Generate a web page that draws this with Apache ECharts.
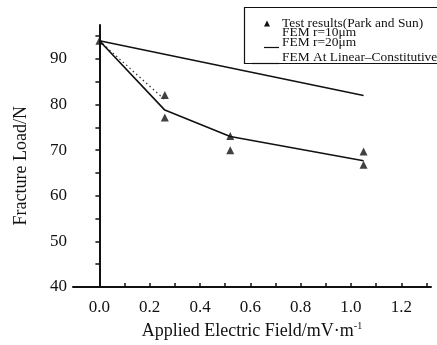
<!DOCTYPE html>
<html>
<head>
<meta charset="utf-8">
<script src="https://cdn.jsdelivr.net/npm/echarts@6/dist/echarts.min.js"></script>
<style>
html,body{margin:0;padding:0;background:#fff;}
#chart{width:437px;height:345px;}
</style>
</head>
<body>
<div id="chart"></div>
<script>
// ---- data ----
var xTickLabels = [0, 0.2, 0.4, 0.6, 0.8, 1.0, 1.2];
var yTickLabels = [40, 50, 60, 70, 80, 90];
var testX = [0, 0.26, 0.26, 0.52, 0.52, 1.05, 1.05];
var testY = [94, 82.1, 77.2, 73.1, 70.0, 69.7, 66.8];
var r10X = [0, 0.265];
var r10Y = [94, 80.8];
var r20X = [0, 0.26, 0.52, 1.05];
var r20Y = [94, 78.8, 73.0, 67.7];
var linX = [0, 1.05];
var linY = [94, 82.0];
var legendNames = ['Test results(Park and Sun)', 'FEM r=10\u03bcm', 'FEM r=20\u03bcm', 'FEM At Linear\u2013Constitutive'];

function pairs(xs, ys) { return xs.map(function (x, i) { return [x, ys[i]]; }); }

var serif = '"Liberation Serif", "DejaVu Serif", serif';
var ink = '#111';

var chart = echarts.init(document.getElementById('chart'), null, {renderer: 'canvas'});
var xMinor = [];
for (var i = 0; i <= 13; i++) xMinor.push(+(i * 0.1).toFixed(1));
var yMinor = [];
for (var v = 40; v <= 95; v += 5) yMinor.push(v);

function legendText(t, y) {
  return {type: 'text', x: 282, y: y, scaleX: 1.12,
    style: {text: t, font: '12px ' + serif, fill: ink, verticalAlign: 'middle'}};
}

chart.setOption({
  backgroundColor: '#fff',
  animation: false,
  grid: {left: 73, right: 6, top: 25, bottom: 58},
  xAxis: {
    type: 'value', min: -0.105, max: 1.318,
    axisLine: {lineStyle: {color: ink, width: 2}},
    splitLine: {show: false},
    axisTick: {show: true, inside: true, length: 4, customValues: xMinor, lineStyle: {color: ink, width: 1.5}},
    axisLabel: {customValues: xTickLabels, margin: 12, color: ink, fontFamily: serif, fontSize: 17,
      formatter: function (v) { return v.toFixed(1); }},
    name: 'Applied Electric Field/mV\u00b7m{s|-1}',
    nameLocation: 'middle', nameGap: 32,
    nameTextStyle: {color: ink, fontFamily: serif, fontSize: 18,
      rich: {s: {fontSize: 10, verticalAlign: 'top', padding: [0, 0, 10, 0], fontFamily: serif, color: ink}}}
  },
  yAxis: {
    type: 'value', min: 40, max: 97.46,
    axisLine: {show: true, lineStyle: {color: ink, width: 2}},
    splitLine: {show: false},
    axisTick: {show: true, inside: false, length: 4, customValues: yMinor, lineStyle: {color: ink, width: 1.5}},
    axisLabel: {customValues: yTickLabels, margin: 6, color: ink, fontFamily: serif, fontSize: 17}
  },
  series: [
    {name: legendNames[1], type: 'line', data: pairs(r10X, r10Y), symbol: 'none',
      lineStyle: {color: '#333', width: 1.2, type: [1.5, 3]}},
    {name: legendNames[2], type: 'line', data: pairs(r20X, r20Y), symbol: 'none',
      lineStyle: {color: ink, width: 1.6}},
    {name: legendNames[3], type: 'line', data: pairs(linX, linY), symbol: 'none',
      lineStyle: {color: ink, width: 1.6}},
    {name: legendNames[0], type: 'scatter', data: pairs(testX, testY), symbol: 'triangle', symbolSize: 8,
      itemStyle: {color: ink}}
  ],
  graphic: [
    {type: 'text', left: 12, top: 106, rotation: Math.PI / 2,
      style: {text: 'Fracture Load/N', font: '18px ' + serif, fill: ink}},
    {type: 'rect', shape: {x: 244.5, y: 7.5, width: 210, height: 56}, style: {fill: 'none', stroke: ink, lineWidth: 1.2}},
    {type: 'polygon', shape: {points: [[267, 20.5], [264, 26.5], [270, 26.5]]}, style: {fill: ink}},
    {type: 'line', shape: {x1: 264, y1: 47.5, x2: 279, y2: 47.5}, style: {stroke: ink, lineWidth: 1.2}},
    {type: 'line', shape: {x1: 252, y1: 63.5, x2: 279, y2: 63.5}, style: {stroke: ink, lineWidth: 1.2}},
    legendText(legendNames[0], 24),
    legendText(legendNames[1], 33),
    legendText(legendNames[2], 42.5),
    legendText(legendNames[3], 58)
  ]
});
</script>
</body>
</html>
